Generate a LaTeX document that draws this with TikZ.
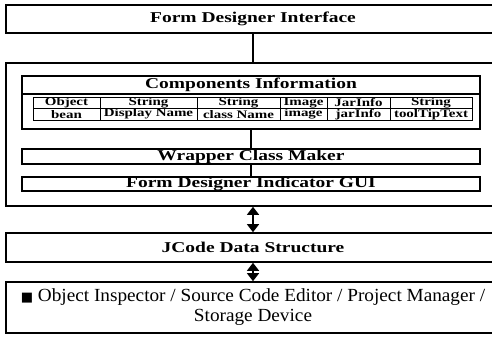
\documentclass[tikz,border=0pt]{standalone}
\usepackage{fontspec}
\setmainfont{Liberation Serif}
\newfontfamily\wideserif[FakeStretch=1.3]{Liberation Serif}
\newfontfamily\plainserif[FakeStretch=1.04]{Liberation Serif}
\newfontfamily\symbfont{DejaVu Sans}
\usetikzlibrary{arrows.meta,positioning}
\tikzset{
	outerbox/.style={draw,line width=1.6pt,inner sep=0pt,
		font=\wideserif\bfseries\fontsize{15}{18}\selectfont},
	innerbox/.style={draw,line width=1.1pt,inner sep=0pt,
		minimum width=458pt,minimum height=15pt,
		font=\wideserif\bfseries\fontsize{15}{18}\selectfont},
	cellbox/.style={draw,line width=1pt,inner sep=0pt,minimum height=11.5pt,
		font=\wideserif\bfseries\fontsize{11.5}{12}\selectfont},
	link/.style={line width=1.4pt},
	dblarrow/.style={{Triangle[width=12pt,length=8pt]}-{Triangle[width=12pt,length=8pt]},line width=1.4pt}
}

\begin{document}
\begin{tikzpicture}[x=1pt,y=-1pt]
	\useasboundingbox (0,0) rectangle (492,337);
	% draw rectangle node
	\node[outerbox,
	minimum width=494pt,
	minimum height=28pt] (fdi) at (253,19) {Form Designer Interface};
	\node[outerbox,
	minimum width=494pt,
	minimum height=143pt] (core) at (253,134.5) {};
	% components table
	\node[innerbox,
	minimum height=53pt] (info) at (251,102.5) {};
	\node[innerbox,
	minimum height=18pt] (infohead) at (251,85) {Components Information};
	\foreach \xl/\w/\ctype/\cval [count=\i] in {33/67/Object/bean,
		100/97/String/Display Name,
		197/83/String/class Name,
		280/47/Image/image,
		327/63/JarInfo/jarInfo,
		390/82/String/toolTipText} {
		\node[cellbox, minimum width=\w pt] (typ\i) at (\xl+\w/2,102.75) {\ctype};
		\node[cellbox, minimum width=\w pt] (val\i) at (\xl+\w/2,114.25) {\cval};
	}
	\node[innerbox] (wrap) at (251,156.5) {Wrapper Class Maker};
	\node[innerbox,
	minimum height=14pt] (gui) at (251,184) {Form Designer Indicator GUI};
	\node[outerbox,
	minimum width=494pt,
	minimum height=29pt] (jcode) at (253,247.5) {JCode Data Structure};
	\node[outerbox,
	minimum width=494pt,
	minimum height=51pt,
	align=center,
	font=\plainserif\fontsize{18.5}{20}\selectfont] (tools) at (253,307.5) {{\symbfont\fontsize{13}{14}\selectfont ■}\ Object Inspector / Source Code Editor / Project Manager /\\Storage Device};
	% Arrows
	\draw[link] (fdi) -- (core);
	\draw[link] (info) -- (wrap);
	\draw[link] (wrap) -- (gui);
	\draw[dblarrow] (core) -- (jcode);
	\draw[dblarrow] (jcode) -- (tools);
\end{tikzpicture}
\end{document}
